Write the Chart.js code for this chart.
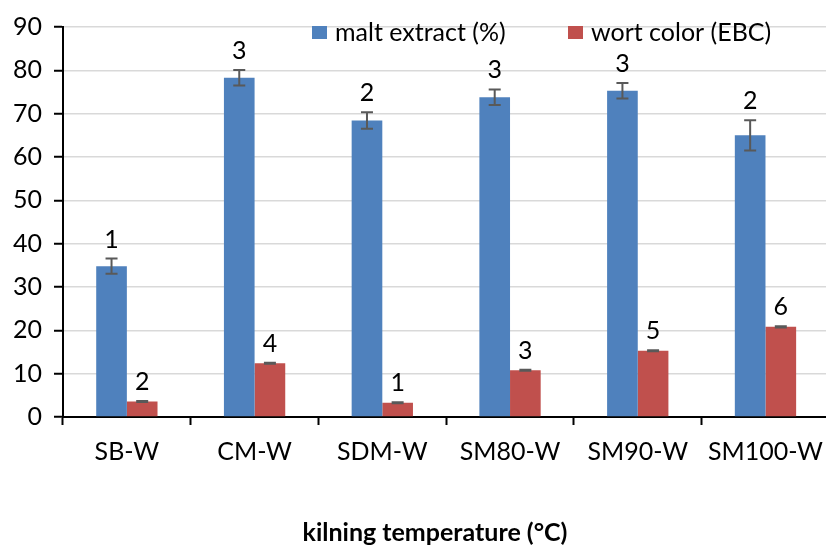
<!DOCTYPE html>
<html>
<head>
<meta charset="utf-8">
<script src="https://cdn.jsdelivr.net/npm/chart.js@4.4.1/dist/chart.umd.min.js"></script>
<style>
  html, body { margin: 0; padding: 0; background: #ffffff; overflow: hidden; width: 826px; height: 545px; }
  canvas { display: block; }
</style>
</head>
<body>
<canvas id="c" width="835" height="545"></canvas>
<script>
// ---- data ----
const categories = ["SB-W", "CM-W", "SDM-W", "SM80-W", "SM90-W", "SM100-W"];
const maltExtract = [34.8, 78.3, 68.4, 73.8, 75.3, 65.0];
const maltError = [1.75, 1.8, 1.9, 1.8, 1.8, 3.5];
const maltLetters = ["1", "3", "2", "3", "3", "2"];
const wortColor = [3.6, 12.4, 3.3, 10.8, 15.3, 20.8];
const wortError = [0.12, 0.12, 0.12, 0.12, 0.12, 0.12];
const wortLetters = ["2", "4", "1", "3", "5", "6"];
const yTicks = [0, 10, 20, 30, 40, 50, 60, 70, 80, 90];
const seriesNames = ["malt extract (%)", "wort color (EBC)"];
const xTitle = "kilning temperature (°C)";

const FONT = "Lato";
const FS = 25;
const BLUE = "#4F81BD";
const RED = "#C0504D";

const errorBarPlugin = {
  id: "errorBars",
  afterDatasetsDraw(chart) {
    const ctx = chart.ctx;
    const ys = chart.scales.y;
    const sets = [
      { vals: maltExtract, errs: maltError, letters: maltLetters },
      { vals: wortColor, errs: wortError, letters: wortLetters }
    ];
    ctx.save();
    sets.forEach((s, di) => {
      const meta = chart.getDatasetMeta(di);
      meta.data.forEach((bar, i) => {
        const x = bar.x;
        const yt = ys.getPixelForValue(s.vals[i] + s.errs[i]);
        const yb = ys.getPixelForValue(s.vals[i] - s.errs[i]);
        ctx.strokeStyle = "#595959";
        ctx.lineWidth = 2;
        ctx.beginPath();
        ctx.moveTo(x, yt); ctx.lineTo(x, yb);
        ctx.moveTo(x - 6, yt); ctx.lineTo(x + 6, yt);
        ctx.moveTo(x - 6, yb); ctx.lineTo(x + 6, yb);
        ctx.stroke();
        ctx.fillStyle = "#000000";
        ctx.font = FS + "px " + FONT;
        ctx.textAlign = "center";
        ctx.textBaseline = "middle";
        ctx.fillText(s.letters[i], x, yt - 19);
      });
    });
    ctx.restore();
  },
  afterDraw(chart) {
    const ctx = chart.ctx;
    ctx.save();
    // legend
    const items = [
      { x: 312, color: BLUE, text: seriesNames[0] },
      { x: 568, color: RED, text: seriesNames[1] }
    ];
    ctx.font = FS + "px " + FONT;
    ctx.textAlign = "left";
    ctx.textBaseline = "middle";
    items.forEach(it => {
      ctx.fillStyle = it.color;
      ctx.fillRect(it.x, 26, 15, 13);
      ctx.fillStyle = "#000000";
      ctx.fillText(it.text, it.x + 23, 33);
    });
    // axis title
    ctx.font = "bold " + FS + "px " + FONT;
    ctx.textAlign = "center";
    ctx.fillText(xTitle, 435, 533);
    ctx.restore();
  }
};

new Chart(document.getElementById("c"), {
  type: "bar",
  data: {
    labels: categories,
    datasets: [
      { label: seriesNames[0], data: maltExtract, backgroundColor: BLUE, categoryPercentage: 0.48, barPercentage: 1.0 },
      { label: seriesNames[1], data: wortColor, backgroundColor: RED, categoryPercentage: 0.48, barPercentage: 1.0 }
    ]
  },
  options: {
    responsive: false,
    animation: false,
    devicePixelRatio: 1,
    layout: { padding: { left: 0, right: 0, top: 26, bottom: 0 } },
    plugins: { legend: { display: false }, tooltip: { enabled: false } },
    scales: {
      x: {
        offset: true,
        grid: { display: true, drawOnChartArea: false, drawTicks: true, tickLength: 8, tickColor: "#000000", tickWidth: 2, offset: true },
        border: { color: "#000000", width: 2 },
        ticks: { color: "#000000", font: { family: FONT, size: FS }, padding: 12, maxRotation: 0, autoSkip: false },
        afterFit(scale) { scale.height = 128; }
      },
      y: {
        min: 0, max: 90,
        afterBuildTicks(scale) { scale.ticks = yTicks.map(v => ({ value: v })); },
        grid: { color: "#D9D9D9", lineWidth: 1.5, drawTicks: true, tickLength: 9, tickColor: "#000000", tickWidth: 2 },
        border: { color: "#000000", width: 2 },
        ticks: { color: "#000000", font: { family: FONT, size: FS }, padding: 12 },
        afterFit(scale) { scale.width = 63; }
      }
    }
  },
  plugins: [errorBarPlugin]
});
</script>
</body>
</html>
